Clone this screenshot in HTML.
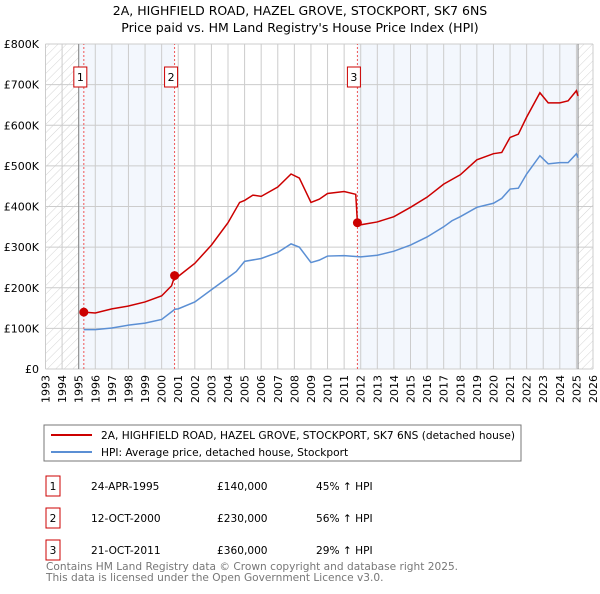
<!DOCTYPE html>
<html><head><meta charset="utf-8"><style>
body{margin:0;background:#fff;font-family:"DejaVu Sans","Liberation Sans",sans-serif;}
svg text{font-family:"DejaVu Sans","Liberation Sans",sans-serif;}
</style></head><body>
<svg id="c" width="600" height="590" viewBox="0 0 600 590" xmlns="http://www.w3.org/2000/svg">
<defs><pattern id="h" width="6" height="6" patternUnits="userSpaceOnUse" patternTransform="rotate(45)"><line x1="0" y1="0" x2="0" y2="6" stroke="#d4d4d4" stroke-width="1"/></pattern></defs>
<text x="300" y="15" text-anchor="middle" font-size="12.5">2A, HIGHFIELD ROAD, HAZEL GROVE, STOCKPORT, SK7 6NS</text>
<text x="300" y="32" text-anchor="middle" font-size="12.5">Price paid vs. HM Land Registry's House Price Index (HPI)</text>
<g id="plot"></g>
<rect x="44" y="425" width="477" height="36" fill="#fff" stroke="#777"/>
<line x1="51" y1="435" x2="92" y2="435" stroke="#cc0000" stroke-width="2"/>
<text x="101" y="439" font-size="10.6">2A, HIGHFIELD ROAD, HAZEL GROVE, STOCKPORT, SK7 6NS (detached house)</text>
<line x1="51" y1="452" x2="92" y2="452" stroke="#5b8fd4" stroke-width="2"/>
<text x="101" y="456" font-size="10.6">HPI: Average price, detached house, Stockport</text>
<g id="tbl" font-size="10.6"></g>
<text x="46" y="570" font-size="10.6" fill="#777">Contains HM Land Registry data © Crown copyright and database right 2025.</text>
<text x="46" y="581" font-size="10.6" fill="#777">This data is licensed under the Open Government Licence v3.0.</text>
</svg>
<script>
const years=[1993,1994,1995,1996,1997,1998,1999,2000,2001,2002,2003,2004,2005,2006,2007,2008,2009,2010,2011,2012,2013,2014,2015,2016,2017,2018,2019,2020,2021,2022,2023,2024,2025,2026];
const yTicks=[0,100,200,300,400,500,600,700,800];
const yTickLabels=["£0","£100K","£200K","£300K","£400K","£500K","£600K","£700K","£800K"];
const hpiT=[1995.3,1996,1997,1998,1999,2000,2000.8,2001,2002,2003,2004,2004.5,2005,2006,2007,2007.8,2008.3,2009,2009.5,2010,2011,2012,2013,2014,2015,2016,2017,2017.5,2018,2019,2020,2020.5,2021,2021.5,2022,2022.8,2023.3,2024,2024.5,2025,2025.1];
const hpiV=[97,97,101,108,113,122,147,148,165,195,225,240,265,272,287,308,300,262,268,278,279,276,280,290,305,325,350,365,375,398,408,420,443,445,480,525,505,508,508,530,520];
const redT=[1995.3,1996,1997,1998,1999,2000,2000.6,2000.8,2001,2002,2003,2004,2004.7,2005,2005.5,2006,2007,2007.8,2008.3,2009,2009.5,2010,2011,2011.7,2011.8,2012,2013,2014,2015,2016,2017,2018,2019,2020,2020.5,2021,2021.5,2022,2022.8,2023.3,2024,2024.5,2025,2025.1];
const redV=[140,138,148,155,165,180,205,230,228,260,305,360,410,415,428,425,448,480,470,410,418,432,437,430,360,355,362,375,398,423,455,478,515,530,533,570,578,620,680,655,655,660,685,672];
const saleT=[1995.31,2000.78,2011.8];
const saleV=[140,230,360];
const saleLabels=["1","2","3"];
const saleDates=["24-APR-1995","12-OCT-2000","21-OCT-2011"];
const salePrices=["£140,000","£230,000","£360,000"];
const salePct=["45% ↑ HPI","56% ↑ HPI","29% ↑ HPI"];
const X=t=>45.5+(t-1993)*(547.5/33), Y=v=>369-v*(325/800);
const NS="http://www.w3.org/2000/svg", g=document.getElementById('plot');
function mk(tag,a,p){const e=document.createElementNS(NS,tag);for(const k in a)e.setAttribute(k,a[k]);(p||g).appendChild(e);return e;}
mk('rect',{x:X(1993),y:Y(800),width:X(1995)-X(1993),height:Y(0)-Y(800),fill:"url(#h)"});
mk('rect',{x:X(2025.1),y:Y(800),width:X(2026)-X(2025.1),height:Y(0)-Y(800),fill:"url(#h)"});
mk('rect',{x:X(1995),y:Y(800),width:X(2000.78)-X(1995),height:Y(0)-Y(800),fill:"#eef3fc",opacity:0.7});
mk('rect',{x:X(2011.8),y:Y(800),width:X(2025.1)-X(2011.8),height:Y(0)-Y(800),fill:"#eef3fc",opacity:0.7});
years.forEach(y=>{const l=mk('line',{x1:X(y),x2:X(y),y1:Y(0),y2:Y(800),stroke:"#ccc"});
 
 
 const t=mk('text',{x:0,y:0,"font-size":11,"text-anchor":"end",transform:`translate(${X(y)+4},${Y(0)+6}) rotate(-90)`});t.textContent=y;
 
 });
yTicks.forEach((v,i)=>{const l=mk('line',{x1:X(1993),x2:X(2026),y1:Y(v),y2:Y(v),stroke:"#ccc"});
 
 
 const t=mk('text',{x:39,y:Y(v)+4,"font-size":11,"text-anchor":"end"});t.textContent=yTickLabels[i];
 
 });
mk('line',{x1:X(1995),x2:X(1995),y1:Y(0),y2:Y(800),stroke:"#888"});
mk('line',{x1:X(2025.1),x2:X(2025.1),y1:Y(0),y2:Y(800),stroke:"#888"});
saleT.forEach((t,i)=>{const l=mk('line',{x1:X(t),x2:X(t),y1:Y(0),y2:Y(800),stroke:"#e55","stroke-dasharray":"2,2"});
 
 
 const b=mk('rect',{x:X(t)-10,y:67,width:13,height:20,fill:"#fff",stroke:"#cc0000"});
 
 
 const tx=mk('text',{x:X(t)-3.5,y:81,"font-size":11,"text-anchor":"middle"});tx.textContent=saleLabels[i];
 
 });
const hp=mk('polyline',{points:hpiT.map((t,i)=>X(t)+","+Y(hpiV[i])).join(" "),fill:"none",stroke:"#5b8fd4","stroke-width":1.5});


const rp=mk('polyline',{points:redT.map((t,i)=>X(t)+","+Y(redV[i])).join(" "),fill:"none",stroke:"#cc0000","stroke-width":1.5});


saleT.forEach((t,i)=>{const c=mk('circle',{cx:X(t),cy:Y(saleV[i]),r:4.5,fill:"#cc0000"});
 
 });
const tb=document.getElementById('tbl');
saleLabels.forEach((s,i)=>{const y=486+i*32;
 const b=mk('rect',{x:46,y:y-10,width:14,height:20,fill:"#fff",stroke:"#cc0000"},tb);
 
 
 const vals=[[53,s],[91,saleDates[i]],[217,salePrices[i]],[316,salePct[i]]];
 vals.forEach(([x,v])=>{const t=mk('text',{x:x,y:y+4,"text-anchor":x===53?"middle":"start"},tb);t.textContent=v;
  
  });
});
</script>
</body></html>
